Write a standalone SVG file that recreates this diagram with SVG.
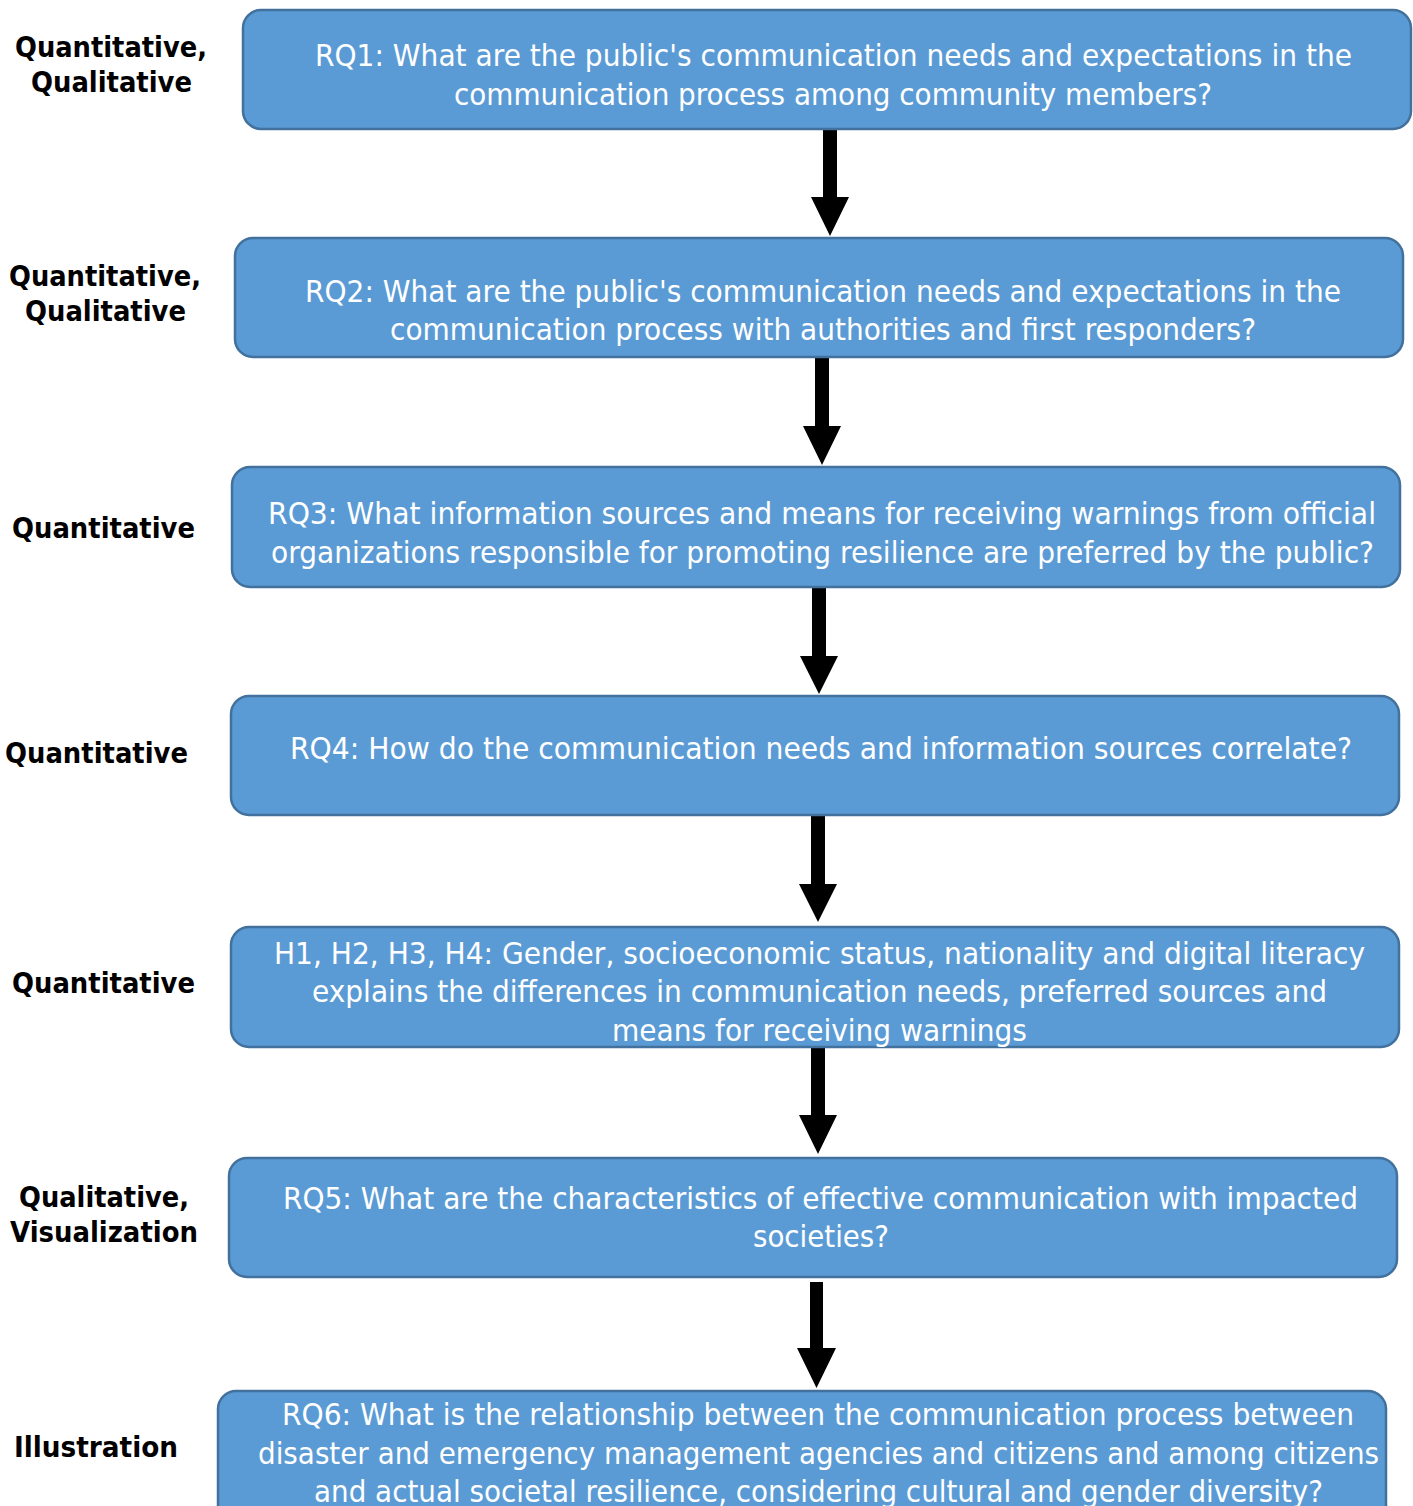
<svg xmlns="http://www.w3.org/2000/svg" width="1413" height="1506" viewBox="0 0 1413 1506">
  <style>
    .box { fill: #5B9BD5; stroke: #41719C; stroke-width: 2.5; }
    .q { font-family: "DejaVu Sans", "Liberation Sans", sans-serif; font-size: 30px; fill: #ffffff; }
    .lbl { font-family: "DejaVu Sans", "Liberation Sans", sans-serif; font-size: 28px; font-weight: bold; fill: #000000; }
    .arrow { fill: #000000; }
  </style>
  <rect width="1413" height="1506" fill="#ffffff"/>

  <!-- method labels -->
  <g id="labels">
    <text class="lbl" x="15" y="57" textLength="192" lengthAdjust="spacingAndGlyphs">Quantitative,</text>
    <text class="lbl" x="31" y="92" textLength="161" lengthAdjust="spacingAndGlyphs">Qualitative</text>
    <text class="lbl" x="9" y="286" textLength="192" lengthAdjust="spacingAndGlyphs">Quantitative,</text>
    <text class="lbl" x="25" y="321" textLength="161" lengthAdjust="spacingAndGlyphs">Qualitative</text>
    <text class="lbl" x="12" y="538" textLength="183" lengthAdjust="spacingAndGlyphs">Quantitative</text>
    <text class="lbl" x="5" y="763" textLength="183" lengthAdjust="spacingAndGlyphs">Quantitative</text>
    <text class="lbl" x="12" y="993" textLength="183" lengthAdjust="spacingAndGlyphs">Quantitative</text>
    <text class="lbl" x="19" y="1207" textLength="170" lengthAdjust="spacingAndGlyphs">Qualitative,</text>
    <text class="lbl" x="10" y="1242" textLength="188" lengthAdjust="spacingAndGlyphs">Visualization</text>
    <text class="lbl" x="14" y="1457" textLength="164" lengthAdjust="spacingAndGlyphs">Illustration</text>
  </g>

  <!-- connectors: block arrows between steps -->
  <g id="connectors">
    <polygon class="arrow" points="823,130 837,130 837,197 849,197 830,236 811,197 823,197"/>
    <polygon class="arrow" points="815,358 829,358 829,426 841,426 822,465 803,426 815,426"/>
    <polygon class="arrow" points="812,588 826,588 826,656 838,656 819,694 800,656 812,656"/>
    <polygon class="arrow" points="811,816 825,816 825,884 837,884 818,922 799,884 811,884"/>
    <polygon class="arrow" points="811,1048 825,1048 825,1115 837,1115 818,1154 799,1115 811,1115"/>
    <polygon class="arrow" points="810,1282 823,1282 823,1348 836,1348 816.5,1388 797,1348 810,1348"/>
  </g>

  <g id="rq1">
    <rect class="box" x="243" y="10" width="1168" height="119" rx="18"/>
    <text class="q" x="315" y="66" textLength="1037" lengthAdjust="spacingAndGlyphs">RQ1: What are the public's communication needs and expectations in the</text>
    <text class="q" x="454" y="105" textLength="758" lengthAdjust="spacingAndGlyphs">communication process among community members?</text>
  </g>

  <g id="rq2">
    <rect class="box" x="235" y="238" width="1168" height="119" rx="18"/>
    <text class="q" x="305" y="302" textLength="1036" lengthAdjust="spacingAndGlyphs">RQ2: What are the public's communication needs and expectations in the</text>
    <text class="q" x="390" y="340" textLength="866" lengthAdjust="spacingAndGlyphs">communication process with authorities and first responders?</text>
  </g>

  <g id="rq3">
    <rect class="box" x="232" y="467" width="1168" height="120" rx="18"/>
    <text class="q" x="268" y="524" textLength="1108" lengthAdjust="spacingAndGlyphs">RQ3: What information sources and means for receiving warnings from official</text>
    <text class="q" x="271" y="563" textLength="1103" lengthAdjust="spacingAndGlyphs">organizations responsible for promoting resilience are preferred by the public?</text>
  </g>

  <g id="rq4">
    <rect class="box" x="231" y="696" width="1168" height="119" rx="18"/>
    <text class="q" x="290" y="759" textLength="1062" lengthAdjust="spacingAndGlyphs">RQ4: How do the communication needs and information sources correlate?</text>
  </g>

  <g id="h1-h4">
    <rect class="box" x="231" y="927" width="1168" height="120" rx="18"/>
    <text class="q" x="274" y="964" textLength="1091" lengthAdjust="spacingAndGlyphs">H1, H2, H3, H4: Gender, socioeconomic status, nationality and digital literacy</text>
    <text class="q" x="312" y="1002" textLength="1015" lengthAdjust="spacingAndGlyphs">explains the differences in communication needs, preferred sources and</text>
    <text class="q" x="612" y="1041" textLength="415" lengthAdjust="spacingAndGlyphs">means for receiving warnings</text>
  </g>

  <g id="rq5">
    <rect class="box" x="229" y="1158" width="1168" height="119" rx="18"/>
    <text class="q" x="283" y="1209" textLength="1075" lengthAdjust="spacingAndGlyphs">RQ5: What are the characteristics of effective communication with impacted</text>
    <text class="q" x="753" y="1247" textLength="136" lengthAdjust="spacingAndGlyphs">societies?</text>
  </g>

  <g id="rq6">
    <rect class="box" x="218" y="1391" width="1168" height="140" rx="18"/>
    <text class="q" x="282" y="1425" textLength="1072" lengthAdjust="spacingAndGlyphs">RQ6: What is the relationship between the communication process between</text>
    <text class="q" x="258" y="1464" textLength="1121" lengthAdjust="spacingAndGlyphs">disaster and emergency management agencies and citizens and among citizens</text>
    <text class="q" x="314" y="1502" textLength="1009" lengthAdjust="spacingAndGlyphs">and actual societal resilience, considering cultural and gender diversity?</text>
  </g>
</svg>
